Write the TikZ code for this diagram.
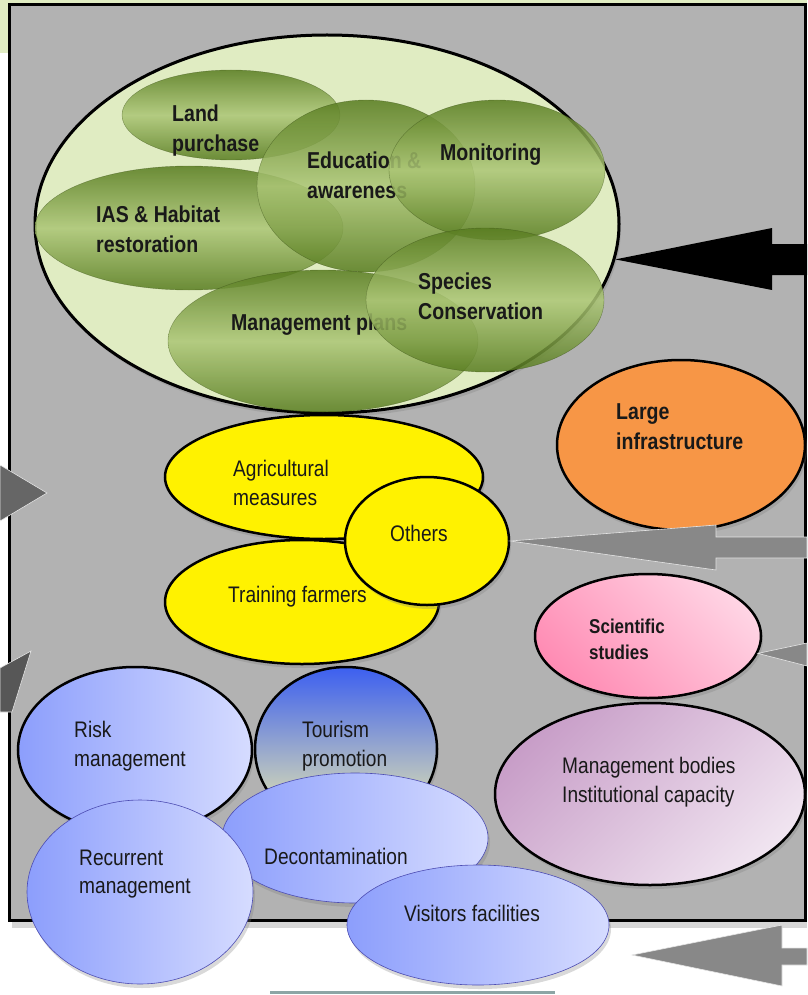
\documentclass[tikz,border=0pt]{standalone}
\usepackage{fontspec}
\setmainfont{Liberation Sans}[FakeStretch=0.85]
\usetikzlibrary{shapes.geometric,shadows}
\definecolor{bggray}{RGB}{178,178,178}
\definecolor{palegreen}{RGB}{224,236,194}
\definecolor{olivedark}{RGB}{88,124,32}
\definecolor{olivelight}{RGB}{172,198,118}
\definecolor{orangefill}{RGB}{247,150,70}
\definecolor{pinkdark}{RGB}{255,140,180}
\definecolor{pinklight}{RGB}{255,212,228}
\definecolor{mauvedark}{RGB}{200,158,200}
\definecolor{mauvelight}{RGB}{240,228,240}
\definecolor{bluedark}{RGB}{140,158,252}
\definecolor{bluelight}{RGB}{214,220,255}
\definecolor{skyblue}{RGB}{60,95,240}
\definecolor{sandpale}{RGB}{244,242,170}
\definecolor{arrowgray}{RGB}{136,136,136}
\definecolor{arrowdark}{RGB}{102,102,102}
\definecolor{rulegray}{RGB}{140,165,165}

\begin{document}
\begin{tikzpicture}[x=1pt,y=-1pt,
    ell/.style={ellipse,inner sep=0pt},
    wh/.style 2 args={minimum width=#1,minimum height=#2},
    dropsh/.style={drop shadow={shadow xshift=2pt,shadow yshift=-4pt,opacity=.3}},
    greenell/.style={ell,draw=olivedark!60!black,draw opacity=.5,fill opacity=.86,
      top color=olivedark,bottom color=olivedark,middle color=olivelight},
    yellowell/.style={ell,dropsh,draw=black,line width=2.5pt,fill=yellow},
    blueell/.style={ell,dropsh,left color=bluedark,right color=bluelight},
    lbl/.style={inner sep=0pt,anchor=west,align=left,text=black!90,
      font=\fontsize{22.5}{28.5}\selectfont},
    glbl/.style={lbl,font=\fontsize{23}{30}\selectfont\bfseries},
    blockarrow/.style={fill=arrowgray,draw=white!80!gray,line width=.6pt}]

  \useasboundingbox (0,0) rectangle (807,995);
  \fill[palegreen] (0,0) rectangle (807,53);
  \fill[black!16] (12,12) rectangle (807,928);
  \draw[line width=3pt,fill=bggray] (9,5) rectangle (805,920);

  % measures cluster
  \node[ell,dropsh,draw=black,line width=3pt,fill=palegreen,wh={584}{378}] (scope) at (327,224) {};
  \node[greenell,wh={218}{90}] (land) at (231,115) {};
  \node[glbl] (land-t) at (172,131) {Land\\purchase};
  \node[greenell,wh={308}{124}] (ias) at (189,228) {};
  \node[glbl] (ias-t) at (96,229) {IAS \& Habitat\\restoration};
  \node[greenell,wh={218}{172}] (educ) at (366,186) {};
  \node[glbl] (educ-t) at (307,175) {Education \&\\awareness};
  \node[greenell,wh={216}{140}] (monit) at (497,170) {};
  \node[glbl] (monit-t) at (440,155) {Monitoring};
  \node[greenell,wh={310}{142}] (mgmt) at (323,341) {};
  \node[glbl] (mgmt-t) at (231,325) {Management plans};
  \node[greenell,wh={238}{144}] (species) at (485,300) {};
  \node[glbl] (species-t) at (418,296) {Species\\Conservation};

  % farming
  \node[yellowell,wh={318}{124}] (agri) at (324,477) {};
  \node[lbl] (agri-t) at (233,483) {Agricultural\\measures};
  \node[yellowell,wh={274}{124}] (train) at (302,602) {};
  \node[lbl] (train-t) at (228,597) {Training farmers};
  \node[yellowell,wh={164}{128}] (others) at (427,541) {};
  \node[lbl] (others-t) at (390,533) {Others};

  \node[ell,dropsh,draw=black,line width=2.5pt,fill=orangefill,wh={248}{170}] (infra) at (681,445) {};
  \node[glbl] (infra-t) at (616,427) {Large\\infrastructure};
  \node[ell,dropsh,draw=black,line width=2.5pt,left color=pinkdark,right color=pinklight,
    shading angle=135,wh={226}{124}] (sci) at (648,636) {};
  \node[glbl,font=\fontsize{20}{26}\selectfont\bfseries] (sci-t) at (589,639) {Scientific\\studies};
  \node[ell,dropsh,draw=black,line width=2.5pt,left color=mauvedark,right color=mauvelight,
    shading angle=45,wh={310}{182}] (bodies) at (650,794) {};
  \node[lbl] (bodies-t) at (562,782) {Management bodies\\Institutional capacity};

  % management & visitors
  \node[blueell,draw=black,line width=2.5pt,wh={234}{166}] (risk) at (135,750) {};
  \node[lbl] (risk-t) at (74,746) {Risk\\management};
  \node[ell,dropsh,draw=black,line width=2.5pt,top color=skyblue,bottom color=sandpale,
    wh={182}{164}] (tour) at (346,749) {};
  \node[lbl] (tour-t) at (302,746) {Tourism\\promotion};
  \node[blueell,draw=gray!60!blue,line width=.6pt,wh={266}{130}] (decon) at (355,838) {};
  \node[lbl] (decon-t) at (264,856) {Decontamination};
  \node[blueell,draw=gray!60!blue,line width=.6pt,wh={226}{184}] (recur) at (140,892) {};
  \node[lbl] (recur-t) at (79,874) {Recurrent\\management};
  \node[blueell,draw=gray!60!blue,line width=.6pt,wh={262}{120}] (visit) at (478,925) {};
  \node[lbl] (visit-t) at (404,913) {Visitors facilities};

  % block arrows
  \coordinate (bigtip) at (scope.-7);
  \coordinate (othtip) at (others.east);
  \coordinate (scitip) at (sci.-9);
  \coordinate (lefttip) at (47,493);
  \coordinate (lowtip) at (31,651);
  \coordinate (bottip) at (632,955);
  \fill[black] (bigtip) -- (772,228) -- (772,244) -- (807,244) -- (807,275)
    -- (772,275) -- (772,290) -- cycle;
  \path[blockarrow] (othtip) -- (716,525) -- (716,537) -- (807,537) -- (807,558)
    -- (716,558) -- (716,570) -- cycle;
  \path[blockarrow] (scitip) -- (807,643) -- (807,666) -- cycle;
  \path[blockarrow] (bottip) -- (782,925) -- (782,948) -- (807,948) -- (807,965)
    -- (782,965) -- (782,986) -- cycle;
  \path[blockarrow,fill=arrowdark] (lefttip) -- (0,465) -- (0,521) -- cycle;
  \path[blockarrow,fill=arrowdark!110] (lowtip) -- (0,668) -- (0,712) -- (12,712) -- cycle;

  \draw[rulegray,line width=3pt] (270,992.5) -- (555,992.5);
\end{tikzpicture}
\end{document}
